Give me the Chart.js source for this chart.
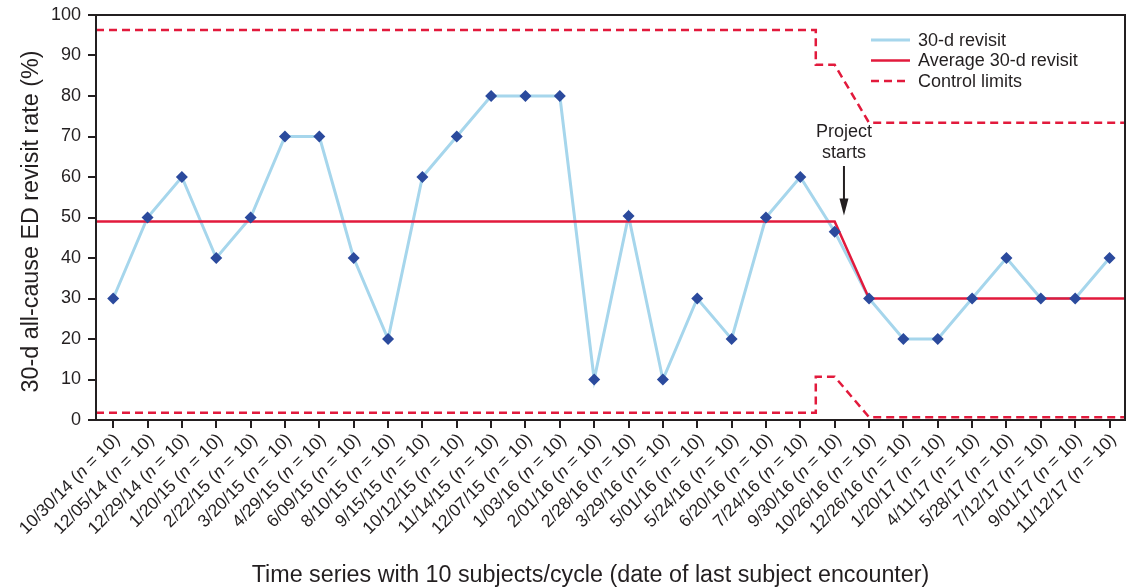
<!DOCTYPE html>
<html>
<head>
<meta charset="utf-8">
<script src="https://cdn.jsdelivr.net/npm/chart.js@4.4.1/dist/chart.umd.min.js"></script>
<style>
  html, body { margin: 0; padding: 0; background: #fff; overflow: hidden; }
  canvas { display: block; }
</style>
</head>
<body>
<canvas id="grafico" width="1126" height="588"></canvas>
<script>
// Datas do último atendimento de cada ciclo (eixo x)
const DATAS = [
  "10/30/14", "12/05/14", "12/29/14", "1/20/15", "2/22/15", "3/20/15",
  "4/29/15", "6/09/15", "8/10/15", "9/15/15", "10/12/15", "11/14/15",
  "12/07/15", "1/03/16", "2/01/16", "2/28/16", "3/29/16", "5/01/16",
  "5/24/16", "6/20/16", "7/24/16", "9/30/16", "10/26/16", "12/26/16",
  "1/20/17", "4/11/17", "5/28/17", "7/12/17", "9/01/17", "11/12/17",
];
const N_CICLO = 10;

// Taxa de retorno em 30 dias (%)
const REVISITAS = [
  30, 50, 60, 40, 50, 70, 70, 40, 20, 60, 70, 80, 80, 80, 10,
  50.4, 10, 30, 20, 50, 60, 46.5, 30, 20, 20, 30, 40, 30, 30, 40,
];

// Média (posição no eixo x = índice do ciclo)
const MEDIA_X = [-0.5, 21, 22, 29.45];
const MEDIA_Y = [49, 49, 30, 30];

// Limites de controle
const LIMITE_X = [-0.5, 20.45, 20.45, 21, 22, 29.45];
const LSC_Y = [96.3, 96.3, 87.7, 87.7, 73.4, 73.4];
const LIC_Y = [1.8, 1.8, 10.7, 10.7, 0.7, 0.7];

// Marcação "Project starts"
const INICIO_PROJETO = 21.27;

const Y_TICKS = [0, 10, 20, 30, 40, 50, 60, 70, 80, 90, 100];

const TITULO_X = "Time series with 10 subjects/cycle (date of last subject encounter)";
const TITULO_Y = "30-d all-cause ED revisit rate (%)";

const COR_TEXTO = "#231f20";
const COR_AZUL_CLARO = "#a6d6ec";
const COR_AZUL = "#2b4a9d";
const COR_VERMELHO = "#e21a3c";
const FONTE = "'Liberation Sans', Arial, sans-serif";

const pares = (xs, ys) => xs.map((x, i) => ({ x, y: ys[i] }));

// Tira o respiro automático que o Chart.js põe em volta dos eixos
const semRespiro = (s) => {
  s.paddingTop = 0; s.paddingBottom = 0; s.paddingLeft = 0; s.paddingRight = 0;
};

// Moldura, legenda, anotação, títulos e rótulos do eixo x
const extras = {
  id: "extras",
  afterDraw(chart) {
    const { ctx, chartArea: a, scales } = chart;
    const sx = scales.x, sy = scales.y;
    ctx.save();

    // moldura
    ctx.strokeStyle = COR_TEXTO;
    ctx.lineWidth = 2;
    ctx.strokeRect(a.left, a.top, a.right - a.left, a.bottom - a.top);

    // legenda
    const lx = a.right - 254, tx = a.right - 207;
    const itens = [
      { txt: "30-d revisit", cor: COR_AZUL_CLARO, larg: 3, dash: [] },
      { txt: "Average 30-d revisit", cor: COR_VERMELHO, larg: 2.5, dash: [] },
      { txt: "Control limits", cor: COR_VERMELHO, larg: 2.5, dash: [8, 5] },
    ];
    ctx.font = "18px " + FONTE;
    ctx.textBaseline = "middle";
    ctx.textAlign = "left";
    itens.forEach((it, i) => {
      const y = a.top + 25 + i * 20.5;
      ctx.beginPath();
      ctx.setLineDash(it.dash);
      ctx.strokeStyle = it.cor;
      ctx.lineWidth = it.larg;
      ctx.moveTo(lx, y);
      ctx.lineTo(lx + 39, y);
      ctx.stroke();
      ctx.setLineDash([]);
      ctx.fillStyle = COR_TEXTO;
      ctx.fillText(it.txt, tx, y + 1);
    });

    // anotação do início do projeto
    const px = sx.getPixelForValue(INICIO_PROJETO);
    ctx.textAlign = "center";
    ctx.fillText("Project", px, 132);
    ctx.fillText("starts", px, 153);
    const yTopo = 166, yPonta = sy.getPixelForValue(50.5);
    ctx.strokeStyle = COR_TEXTO;
    ctx.lineWidth = 2;
    ctx.beginPath();
    ctx.moveTo(px, yTopo);
    ctx.lineTo(px, yPonta - 10);
    ctx.stroke();
    ctx.fillStyle = COR_TEXTO;
    ctx.beginPath();
    ctx.moveTo(px - 4.5, yPonta - 17);
    ctx.lineTo(px + 4.5, yPonta - 17);
    ctx.lineTo(px, yPonta);
    ctx.closePath();
    ctx.fill();

    // títulos dos eixos
    ctx.font = "23.3px " + FONTE;
    ctx.textBaseline = "alphabetic";
    ctx.textAlign = "center";
    ctx.fillText(TITULO_X, 590.5, 582);
    ctx.save();
    ctx.translate(38, 221.5);
    ctx.rotate(-Math.PI / 2);
    ctx.fillText(TITULO_Y, 0, 0);
    ctx.restore();

    // rótulos do eixo x, com o "n" em itálico
    const normal = "17.5px " + FONTE, italico = "italic 17.5px " + FONTE;
    DATAS.forEach((d, i) => {
      const partes = [
        [d + " (", normal],
        ["n", italico],
        [" = " + N_CICLO + ")", normal],
      ];
      let total = 0;
      partes.forEach(([t, f]) => { ctx.font = f; total += ctx.measureText(t).width; });
      ctx.save();
      ctx.translate(sx.getPixelForValue(i) + 4, a.bottom + 17);
      ctx.rotate(-Math.PI / 4);
      ctx.textAlign = "left";
      ctx.textBaseline = "middle";
      ctx.fillStyle = COR_TEXTO;
      let x = -total;
      partes.forEach(([t, f]) => {
        ctx.font = f;
        ctx.fillText(t, x, 0);
        x += ctx.measureText(t).width;
      });
      ctx.restore();
    });

    ctx.restore();
  },
};

new Chart(document.getElementById("grafico"), {
  type: "line",
  data: {
    datasets: [
      {
        label: "pontos",
        data: pares(REVISITAS.map((_, i) => i), REVISITAS),
        showLine: false,
        pointStyle: "rectRot",
        pointRadius: 6,
        pointBackgroundColor: COR_AZUL,
        pointBorderColor: COR_AZUL,
        pointBorderWidth: 0,
      },
      {
        label: "Average 30-d revisit",
        data: pares(MEDIA_X, MEDIA_Y),
        borderColor: COR_VERMELHO,
        borderWidth: 2.5,
        pointRadius: 0,
      },
      {
        label: "Control limits",
        data: pares(LIMITE_X, LSC_Y),
        borderColor: COR_VERMELHO,
        borderWidth: 2.5,
        borderDash: [8, 5],
        pointRadius: 0,
      },
      {
        label: "Control limits (inferior)",
        data: pares(LIMITE_X, LIC_Y),
        borderColor: COR_VERMELHO,
        borderWidth: 2.5,
        borderDash: [8, 5],
        pointRadius: 0,
      },
      {
        label: "30-d revisit",
        data: pares(REVISITAS.map((_, i) => i), REVISITAS),
        borderColor: COR_AZUL_CLARO,
        borderWidth: 3,
        pointRadius: 0,
      },
    ],
  },
  options: {
    responsive: false,
    animation: false,
    layout: { autoPadding: false, padding: { top: 15, right: 1, left: 0, bottom: 0 } },
    plugins: { legend: { display: false }, tooltip: { enabled: false } },
    scales: {
      x: {
        type: "linear",
        min: -0.5,
        max: 29.45,
        afterBuildTicks: (s) => { s.ticks = DATAS.map((_, i) => ({ value: i })); },
        afterFit: (s) => { s.height = 168; semRespiro(s); },
        ticks: { display: false },
        grid: { drawOnChartArea: false, drawTicks: true, tickLength: 8, color: COR_TEXTO, lineWidth: 2 },
        border: { display: true, color: COR_TEXTO, width: 2 },
      },
      y: {
        min: 0,
        max: 100,
        afterBuildTicks: (s) => { s.ticks = Y_TICKS.map((v) => ({ value: v })); },
        afterFit: (s) => { s.width = 96; semRespiro(s); },
        ticks: { color: COR_TEXTO, font: { family: FONTE, size: 18 }, padding: 7 },
        grid: { drawOnChartArea: false, drawTicks: true, tickLength: 8, color: COR_TEXTO, lineWidth: 2 },
        border: { display: true, color: COR_TEXTO, width: 2 },
      },
    },
  },
  plugins: [extras],
});
</script>
</body>
</html>
